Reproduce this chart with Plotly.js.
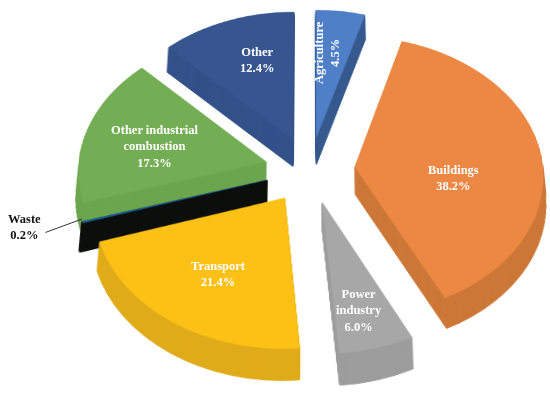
<!DOCTYPE html>
<html>
<head>
<meta charset="utf-8">
<script src="https://cdn.plot.ly/plotly-3.0.1.min.js"></script>
<style>
html,body{margin:0;padding:0;width:550px;height:397px;overflow:hidden;background:#fff}
#chart{width:550px;height:520px}
</style>
</head>
<body>
<div id="chart"></div>
<script>
var categories = ["Agriculture","Buildings","Power industry","Transport","Waste","Other industrial combustion","Other"];
var shares = [4.5,38.2,6.0,21.4,0.2,17.3,12.4];
var topColors = ["#4f7fc7","#ec8843","#a7a7a7","#fdc115","#1f5f8f","#73ae55","#37568f"];
var sideColors = ["#36598f","#cd7838","#9d9d9d","#e0ab1a","#0c0f0c","#6ca64e","#34528a"];
var pullShare = 0.24;
var H = 520, W = 550;
var depthPx = 37, stepPx = 1;

function domain(shift){
  return {x:[77/W,543/W], y:[1-(473+shift)/H, 1-(7+shift)/H]};
}
function layer(shift, colors, lineColors, widths){
  return {type:"pie", labels:categories, values:shares, sort:false, direction:"clockwise", rotation:0,
    pull:pullShare, textinfo:"none", hoverinfo:"skip", showlegend:false, domain:domain(shift),
    marker:{colors:colors, line:{color:lineColors, width:widths}}};
}
var traces = [];
for (var s = depthPx; s > 0; s -= stepPx) {
  traces.push(layer(s, sideColors, sideColors, [1,1,1,1,2,1,1]));
}
traces.push(layer(0, topColors, topColors, [0.5,0.5,0.5,0.5,0.5,0.5,0.5]));

function lbl(text,x,y,color,angle){
  return {text:"<b>"+text+"</b>", xref:"paper", yref:"paper", x:x/W, y:1-y/H, xanchor:"center", yanchor:"middle",
    showarrow:false, align:"center", textangle:angle||0,
    font:{family:"Liberation Serif",size:12.5,color:color||"#fff"}};
}
var annotations = [
  lbl("Agriculture<br>4.5%",327,53,"#fff",-90),
  lbl("Other<br>12.4%",257,60),
  lbl("Other industrial<br>combustion<br>17.3%",154,146),
  lbl("Buildings<br>38.2%",453,178),
  lbl("Transport<br>21.4%",218,274),
  lbl("Power<br>industry<br>6.0%",359,310),
  lbl("Waste<br>0.2%",24,227,"#111"),
  {xref:"paper",yref:"paper",axref:"paper",ayref:"paper",x:82/W,y:1-219/H,ax:44/W,ay:1-233/H,
   text:"",showarrow:true,arrowhead:0,arrowwidth:1,arrowcolor:"#333",standoff:0,startstandoff:0}
];
var layout = {width:W,height:H,margin:{l:0,r:0,t:0,b:0},paper_bgcolor:"#fff",annotations:annotations};
var gd = document.getElementById("chart");
Plotly.newPlot(gd,traces,layout,{staticPlot:true,displayModeBar:false}).then(function(){
  var svg = gd.querySelectorAll("svg.main-svg")[0];
  svg.style.transformOrigin = "310px 240px";
  svg.style.transform = "translateY(-70px) perspective(2180px) rotateX(42.5deg)";
});
</script>
</body>
</html>
